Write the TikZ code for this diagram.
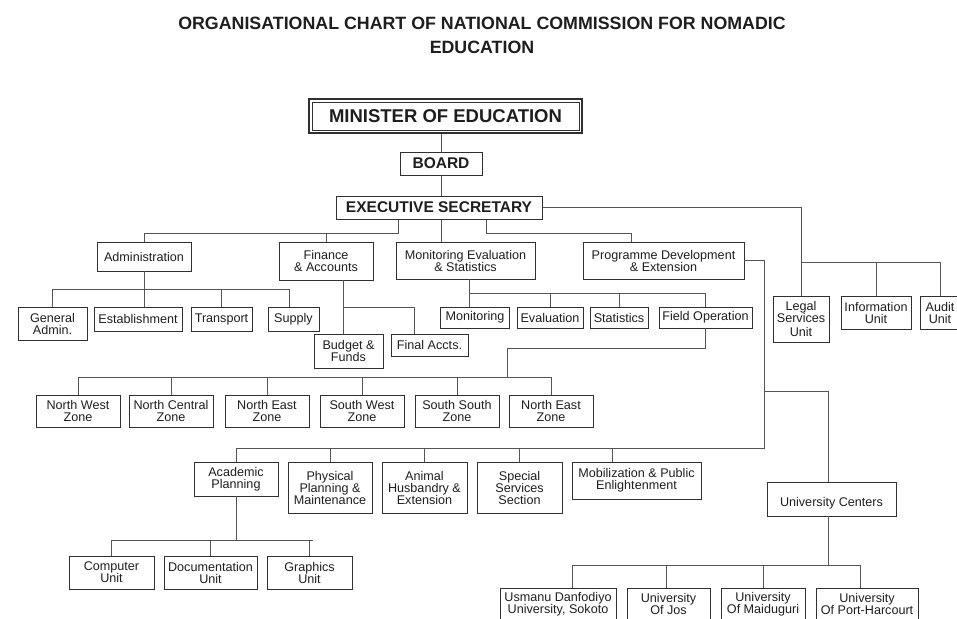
\documentclass[tikz,border=0pt]{standalone}
\usepackage{fontspec}
\setmainfont{Liberation Sans}
\definecolor{ink}{HTML}{1E1E1E}
\definecolor{wirecol}{HTML}{555555}
\definecolor{framecol}{HTML}{303030}
\begin{document}
\begin{tikzpicture}[x=1pt,y=-1pt,
  unitbox/.style={draw=framecol, line width=0.9pt, text=ink, align=center,
    inner sep=0pt, font=\fontsize{12.6}{12}\selectfont},
  headbox/.style={draw=framecol, line width=1pt, text=ink, inner sep=0pt,
    font=\bfseries\fontsize{15.5}{16}\selectfont},
  link/.style={draw=wirecol, line width=1pt},
  titletext/.style={text=ink, inner sep=0pt, anchor=base,
    font=\bfseries\fontsize{17.8}{20}\selectfont},
]
\useasboundingbox (0,0) rectangle (957,618);

% ---- title ----
\node[titletext] (t1) at (482,30) {ORGANISATIONAL CHART OF NATIONAL COMMISSION FOR NOMADIC};
\node[titletext] (t2) at (482,53) {EDUCATION};

% ---- top of the hierarchy ----
\node[draw=framecol, line width=2pt, text=ink, inner sep=0pt,
  minimum width=273pt, minimum height=34pt,
  font=\bfseries\fontsize{18.5}{20}\selectfont] (minister) at (445.5,116) {MINISTER OF EDUCATION};
\draw[framecol, line width=0.8pt] ([shift={(4pt,-4pt)}]minister.north west)
  rectangle ([shift={(-4pt,4pt)}]minister.south east);
\node[headbox, minimum width=82pt, minimum height=23pt] (board) at (441,163.5) {BOARD};
\node[headbox, minimum width=206pt, minimum height=23pt] (exec) at (439,207.5) {EXECUTIVE SECRETARY};

% ---- departments ----
\node[unitbox, minimum width=94pt, minimum height=29pt] (admin) at (144,256.5) {Administration};
\node[unitbox, minimum width=94pt, minimum height=38pt] (fin) at (326,261) {Finance\\\& Accounts};
\node[unitbox, minimum width=139pt, minimum height=37pt] (mes) at (465.5,260.5) {Monitoring Evaluation\\\& Statistics};
\node[unitbox, minimum width=161pt, minimum height=37pt] (prog) at (663.5,260.5) {Programme Development\\\& Extension};

% ---- units reporting to the executive secretary ----
\node[unitbox, minimum width=56pt, minimum height=46pt] (legal) at (801,319) {Legal\\Services\\[2pt]Unit};
\node[unitbox, minimum width=70pt, minimum height=33pt] (info) at (876,312.5) {Information\\Unit};
\node[unitbox, minimum width=40pt, minimum height=33pt] (audit) at (940,312.5) {Audit\\Unit};

% ---- administration units ----
\node[unitbox, minimum width=69pt, minimum height=33pt] (gen) at (52.5,323.5) {General\\Admin.};
\node[unitbox, minimum width=88pt, minimum height=24pt] (est) at (138,319) {Establishment};
\node[unitbox, minimum width=61pt, minimum height=24pt] (tra) at (221.5,319) {Transport};
\node[unitbox, minimum width=51pt, minimum height=24pt] (sup) at (293.5,319) {Supply};

% ---- finance units ----
\node[unitbox, minimum width=69pt, minimum height=34pt] (bud) at (348.5,351) {Budget \&\\Funds};
\node[unitbox, minimum width=77pt, minimum height=22pt] (fina) at (429.5,345) {Final Accts.};

% ---- monitoring units ----
\node[unitbox, minimum width=69pt, minimum height=21pt] (mon) at (475,317.5) {Monitoring};
\node[unitbox, minimum width=66pt, minimum height=21pt] (eva) at (550,317.5) {Evaluation};
\node[unitbox, minimum width=58pt, minimum height=21pt] (sta) at (619,317.5) {Statistics};
\node[unitbox, minimum width=93pt, minimum height=21pt] (fop) at (705.5,317.5) {Field Operation};

% ---- zones ----
\node[unitbox, minimum width=84pt, minimum height=32pt] (znw) at (78,411) {North West\\Zone};
\node[unitbox, minimum width=84pt, minimum height=32pt] (znc) at (171,411) {North Central\\Zone};
\node[unitbox, minimum width=84pt, minimum height=32pt] (zne) at (267,411) {North East\\Zone};
\node[unitbox, minimum width=84pt, minimum height=32pt] (zsw) at (362,411) {South West\\Zone};
\node[unitbox, minimum width=84pt, minimum height=32pt] (zss) at (457,411) {South South\\Zone};
\node[unitbox, minimum width=84pt, minimum height=32pt] (znea) at (551,411) {North East\\Zone};

% ---- programme development units ----
\node[unitbox, minimum width=84pt, minimum height=34pt] (acad) at (236,479) {Academic\\Planning};
\node[unitbox, minimum width=84pt, minimum height=51pt] (phys) at (330,487.5) {Physical\\Planning \&\\Maintenance};
\node[unitbox, minimum width=85pt, minimum height=51pt] (anim) at (424.5,487.5) {Animal\\Husbandry \&\\Extension};
\node[unitbox, minimum width=85pt, minimum height=51pt] (spec) at (519.5,487.5) {Special\\Services\\Section};
\node[unitbox, minimum width=129pt, minimum height=37pt] (mob) at (636.5,480.5) {Mobilization \& Public\\Enlightenment};
\node[unitbox, minimum width=129pt, minimum height=34pt, text depth=0pt, text height=14pt] (uc) at (831.5,499) {University Centers};

% ---- academic planning units ----
\node[unitbox, minimum width=85pt, minimum height=33pt] (comp) at (111.5,572.5) {Computer\\Unit};
\node[unitbox, minimum width=93pt, minimum height=33pt] (docu) at (210.5,572.5) {Documentation\\Unit};
\node[unitbox, minimum width=85pt, minimum height=33pt] (graph) at (309.5,572.5) {Graphics\\Unit};

% ---- university centres ----
\node[unitbox, minimum width=116pt, minimum height=32pt] (usm) at (558,604) {Usmanu Danfodiyo\\University, Sokoto};
\node[unitbox, minimum width=83pt, minimum height=32pt] (jos) at (668.5,604) {University\\Of Jos};
\node[unitbox, minimum width=84pt, minimum height=32pt] (mai) at (763,604) {University\\Of Maiduguri};
\node[unitbox, minimum width=102pt, minimum height=32pt] (phc) at (867,604) {University\\Of Port-Harcourt};

% ---- junction points of the connectors ----
\coordinate (hubL) at (398,233);
\coordinate (hubR) at (486,233);
\coordinate (hubP) at (631,233);
\coordinate (staff) at (0,262);
\coordinate (abus) at (0,289);
\coordinate (fbus) at (0,307);
\coordinate (mbus) at (0,293);
\coordinate (zturn) at (507,348);
\coordinate (zbus) at (0,377);
\coordinate (pv) at (764,0);
\coordinate (ubus) at (0,391);
\coordinate (lbus) at (0,448);
\coordinate (acbus) at (0,540);
\coordinate (unbus) at (0,565);
\coordinate (estd) at ([xshift=6pt]est.north);
\coordinate (supd) at ([xshift=-4.5pt]sup.north);
\coordinate (fd) at ([xshift=17pt]fin.south);
\coordinate (fad) at ([xshift=-15.5pt]fina.north);
\coordinate (md) at ([xshift=3.5pt]mes.south);
\coordinate (mobd) at ([xshift=-24.5pt]mob.north);
\coordinate (ucd) at ([xshift=-3.5pt]uc.north);
\coordinate (usmd) at ([xshift=14pt]usm.north);
\coordinate (josd) at ([xshift=-2.5pt]jos.north);
\coordinate (phcd) at ([xshift=-7pt]phc.north);

% ---- connectors: top ----
\draw[link] (minister.south -| board) -- (board.north);
\draw[link] (board.south) -- (exec.north -| board);
\draw[link] (exec.south -| hubL) -- (hubL) -| (admin.north);
\draw[link] (hubL -| fin.north) -- (fin.north);
\draw[link] (exec.south -| board) -- (mes.north -| board);
\draw[link] (exec.south -| hubR) -- (hubR) -- (hubP) -- (hubP |- prog.north);
\draw[link] (exec.east) -- (exec.east -| legal) -- (legal.north);
\draw[link] (legal |- staff) -| (audit.north);
\draw[link] (info |- staff) -- (info.north);

% ---- connectors: administration ----
\draw[link] (admin.south) -- (estd);
\draw[link] (gen.north |- abus) -- (supd |- abus);
\draw[link] (gen.north |- abus) -- (gen.north);
\draw[link] (tra.north |- abus) -- (tra.north);
\draw[link] (supd |- abus) -- (supd);

% ---- connectors: finance ----
\draw[link] (fd) -- (fd |- bud.north);
\draw[link] (fd |- fbus) -| (fad);

% ---- connectors: monitoring ----
\draw[link] (md) -- (md |- mon.north);
\draw[link] (md |- mbus) -- (fop.north |- mbus) -- (fop.north);
\draw[link] (eva.north |- mbus) -- (eva.north);
\draw[link] (sta.north |- mbus) -- (sta.north);

% ---- connectors: zones ----
\draw[link] (fop.south) -- (fop.south |- zturn) -- (zturn) -- (zturn |- zbus);
\draw[link] (znw.north |- zbus) -- (znea.north |- zbus);
\foreach \z in {znw,znc,zne,zsw,zss,znea}
  \draw[link] (\z.north |- zbus) -- (\z.north);

% ---- connectors: programme development ----
\draw[link] (prog.east) -- (prog.east -| pv) -- (pv |- lbus) -- (acad.north |- lbus);
\foreach \z in {acad,phys,anim,spec}
  \draw[link] (\z.north |- lbus) -- (\z.north);
\draw[link] (mobd |- lbus) -- (mobd);
\draw[link] (pv |- ubus) -| (ucd);

% ---- connectors: academic planning ----
\draw[link] (acad.south) -- (acad.south |- acbus);
\draw[link] (comp.north |- acbus) -- ([xshift=3pt]graph.north |- acbus);
\foreach \z in {comp,docu,graph}
  \draw[link] (\z.north |- acbus) -- (\z.north);

% ---- connectors: university centres ----
\draw[link] (ucd |- uc.south) -- (ucd |- unbus);
\draw[link] (usmd |- unbus) -- (phcd |- unbus);
\draw[link] (usmd |- unbus) -- (usmd);
\draw[link] (josd |- unbus) -- (josd);
\draw[link] (mai.north |- unbus) -- (mai.north);
\draw[link] (phcd |- unbus) -- (phcd);
\end{tikzpicture}
\end{document}
